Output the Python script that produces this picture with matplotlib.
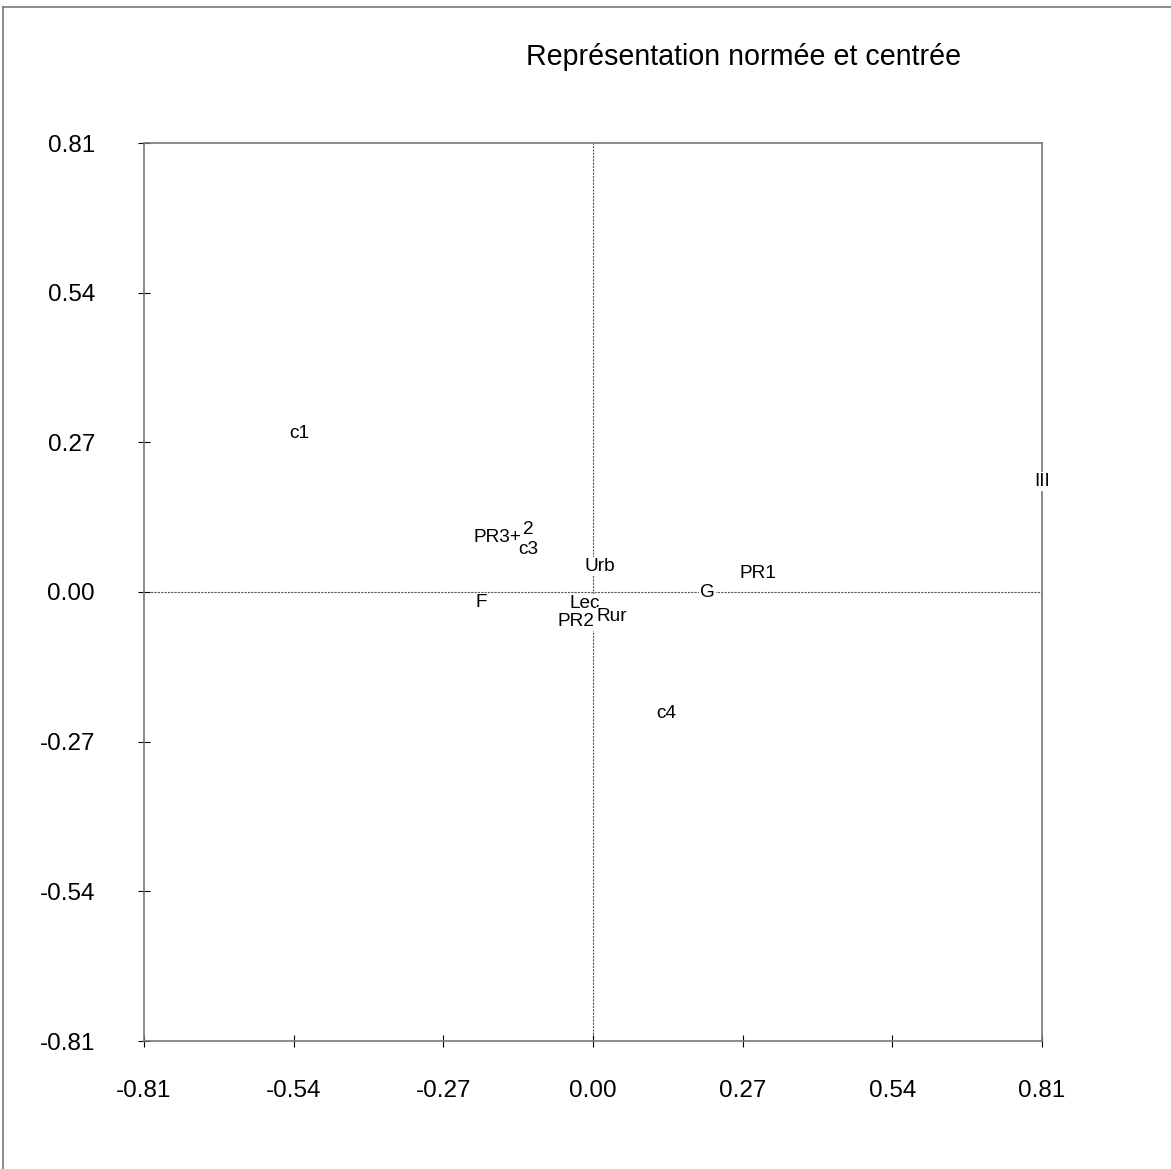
import matplotlib
matplotlib.use("Agg")
import matplotlib.pyplot as plt

plt.rcParams['font.family'] = ['Liberation Sans', 'DejaVu Sans']

labels = ["c1", "III", "PR3+", "2", "c3", "Urb", "PR1", "G", "F", "Lec", "Rur", "PR2", "c4"]
xs = [-0.529, 0.810, -0.173, -0.117, -0.117, 0.013, 0.298, 0.207, -0.202, -0.014, 0.034, -0.031, 0.132]
ys = [0.286, 0.199, 0.098, 0.112, 0.076, 0.046, 0.033, -0.001, -0.019, -0.020, -0.044, -0.053, -0.220]
ticks = [-0.81, -0.54, -0.27, 0.00, 0.27, 0.54, 0.81]
tick_labels = ["-0.81", "-0.54", "-0.27", "0.00", "0.27", "0.54", "0.81"]
title = "Représentation normée et centrée"

W, H = 1171, 1169
fig = plt.figure(figsize=(W / 100, H / 100), dpi=100)
fig.patch.set_facecolor("white")

# outer frame (left and top edges)
fig.add_artist(plt.Line2D([3 / W, 3 / W], [0, 1 - 7 / H], color="#777777", lw=1.2, transform=fig.transFigure))
fig.add_artist(plt.Line2D([3 / W, 1], [1 - 7 / H, 1 - 7 / H], color="#777777", lw=1.2, transform=fig.transFigure))

ax = fig.add_axes([144 / W, (H - 1041) / H, 898 / W, 898 / H])
ax.set_xlim(-0.81, 0.81)
ax.set_ylim(-0.81, 0.81)
for s in ax.spines.values():
    s.set_color("#777777")
    s.set_linewidth(1.2)

ax.axhline(0, color="#555555", lw=0.8, ls=(0, (2, 1)), zorder=1)
ax.axvline(0, color="#555555", lw=0.8, ls=(0, (2, 1)), zorder=1)

ax.set_xticks(ticks)
ax.set_xticklabels(tick_labels)
ax.set_yticks(ticks)
ax.set_yticklabels(tick_labels)
ax.tick_params(direction="inout", length=8.6, width=0.8, color="black",
               labelsize=17.5, pad=23.5)
ax.tick_params(axis="y", pad=31)

for lab, x, y in zip(labels, xs, ys):
    ax.text(x, y, lab, ha="center", va="center", fontsize=13.7, zorder=3,
            bbox=dict(boxstyle="square,pad=0.05", fc="white", ec="none"))

fig.text(744 / W, 1 - 57 / H, title, ha="center", va="center", fontsize=20.6)

fig.savefig("out.png", dpi=100, facecolor="white")
